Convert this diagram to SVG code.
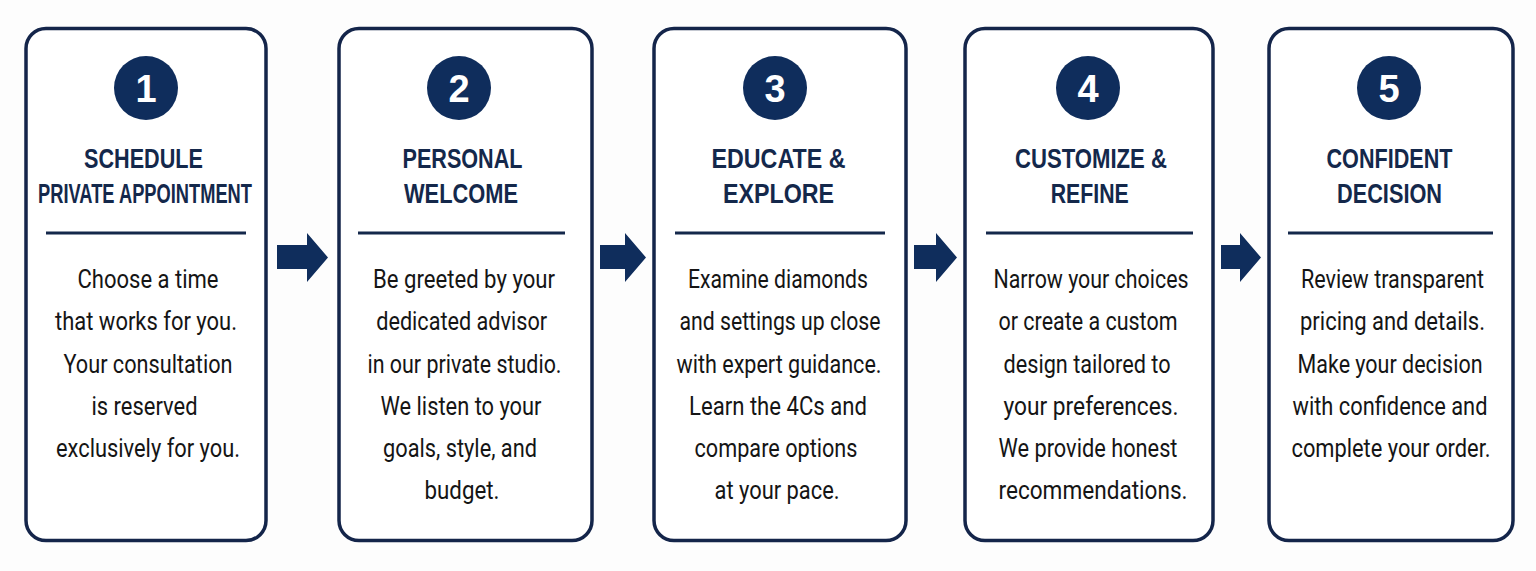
<svg xmlns="http://www.w3.org/2000/svg" width="1536" height="571" viewBox="0 0 1536 571">
<defs>
<style>
.card{fill:#ffffff;stroke:#14254a;stroke-width:3.5}
.badge{fill:#0f2d5c}
.num{fill:#ffffff;font-family:"Liberation Sans",Arial,sans-serif;font-weight:bold;font-size:38px;text-anchor:middle}
.title{fill:#14284b;font-family:"Liberation Sans Narrow","Liberation Sans",Arial,sans-serif;font-weight:bold;font-size:27px;text-anchor:middle}
.rule{stroke:#14284b;stroke-width:3}
.body{fill:#151515;font-family:Roboto,"Liberation Sans",Arial,sans-serif;font-size:25px;text-anchor:middle}
.arrow{fill:#0f2d5c}
</style>
</defs>
<rect width="1536" height="571" fill="#fdfdfd"/>

<g id="connectors">
<polygon class="arrow" points="277,245 307,245 307,233 328,257.5 307,282 307,269 277,269"/>
<polygon class="arrow" points="600,245 625,245 625,233 646,257.5 625,282 625,269 600,269"/>
<polygon class="arrow" points="914,245 936,245 936,233 957,257.5 936,282 936,269 914,269"/>
<polygon class="arrow" points="1221,245 1240,245 1240,233 1261,257.5 1240,282 1240,269 1221,269"/>
</g>

<g id="step1">
<rect class="card" x="26" y="28.5" width="240" height="512" rx="20"/>
<circle class="badge" cx="146" cy="88" r="32"/>
<text class="num" x="146" y="102">1</text>
<text class="title" x="143.5" y="168" textLength="119" lengthAdjust="spacingAndGlyphs">SCHEDULE</text>
<text class="title" x="145" y="203" textLength="214" lengthAdjust="spacingAndGlyphs">PRIVATE APPOINTMENT</text>
<line class="rule" x1="46" y1="233" x2="246" y2="233"/>
<text class="body" x="148" y="288" textLength="141" lengthAdjust="spacingAndGlyphs">Choose a time</text>
<text class="body" x="146" y="330" textLength="182" lengthAdjust="spacingAndGlyphs">that works for you.</text>
<text class="body" x="148" y="372.5" textLength="169" lengthAdjust="spacingAndGlyphs">Your consultation</text>
<text class="body" x="144.5" y="415" textLength="106" lengthAdjust="spacingAndGlyphs">is reserved</text>
<text class="body" x="148" y="457" textLength="184" lengthAdjust="spacingAndGlyphs">exclusively for you.</text>
</g>

<g id="step2">
<rect class="card" x="339" y="28.5" width="253" height="512" rx="20"/>
<circle class="badge" cx="459" cy="88" r="32"/>
<text class="num" x="459" y="102">2</text>
<text class="title" x="462.5" y="168" textLength="120" lengthAdjust="spacingAndGlyphs">PERSONAL</text>
<text class="title" x="461" y="203" textLength="114" lengthAdjust="spacingAndGlyphs">WELCOME</text>
<line class="rule" x1="358" y1="233" x2="565" y2="233"/>
<text class="body" x="464" y="288" textLength="182" lengthAdjust="spacingAndGlyphs">Be greeted by your</text>
<text class="body" x="461.7" y="330" textLength="171" lengthAdjust="spacingAndGlyphs">dedicated advisor</text>
<text class="body" x="464.5" y="372.5" textLength="194" lengthAdjust="spacingAndGlyphs">in our private studio.</text>
<text class="body" x="461" y="415" textLength="161" lengthAdjust="spacingAndGlyphs">We listen to your</text>
<text class="body" x="460" y="457" textLength="154" lengthAdjust="spacingAndGlyphs">goals, style, and</text>
<text class="body" x="462" y="499" textLength="75" lengthAdjust="spacingAndGlyphs">budget.</text>
</g>

<g id="step3">
<rect class="card" x="654" y="28.5" width="252" height="512" rx="20"/>
<circle class="badge" cx="775" cy="88" r="32"/>
<text class="num" x="775" y="102">3</text>
<text class="title" x="778.5" y="168" textLength="134" lengthAdjust="spacingAndGlyphs">EDUCATE &amp;</text>
<text class="title" x="778.5" y="203" textLength="111" lengthAdjust="spacingAndGlyphs">EXPLORE</text>
<line class="rule" x1="675" y1="233" x2="885" y2="233"/>
<text class="body" x="778" y="288" textLength="180" lengthAdjust="spacingAndGlyphs">Examine diamonds</text>
<text class="body" x="780" y="330" textLength="201" lengthAdjust="spacingAndGlyphs">and settings up close</text>
<text class="body" x="779" y="372.5" textLength="205" lengthAdjust="spacingAndGlyphs">with expert guidance.</text>
<text class="body" x="778" y="415" textLength="178" lengthAdjust="spacingAndGlyphs">Learn the 4Cs and</text>
<text class="body" x="776" y="457" textLength="163" lengthAdjust="spacingAndGlyphs">compare options</text>
<text class="body" x="777" y="499" textLength="125" lengthAdjust="spacingAndGlyphs">at your pace.</text>
</g>

<g id="step4">
<rect class="card" x="965" y="28.5" width="248" height="512" rx="20"/>
<circle class="badge" cx="1088" cy="88" r="32"/>
<text class="num" x="1088" y="102">4</text>
<text class="title" x="1091" y="168" textLength="152" lengthAdjust="spacingAndGlyphs">CUSTOMIZE &amp;</text>
<text class="title" x="1089.7" y="203" textLength="78" lengthAdjust="spacingAndGlyphs">REFINE</text>
<line class="rule" x1="986" y1="233" x2="1193" y2="233"/>
<text class="body" x="1091" y="288" textLength="195" lengthAdjust="spacingAndGlyphs">Narrow your choices</text>
<text class="body" x="1088" y="330" textLength="179" lengthAdjust="spacingAndGlyphs">or create a custom</text>
<text class="body" x="1087" y="372.5" textLength="167" lengthAdjust="spacingAndGlyphs">design tailored to</text>
<text class="body" x="1091" y="415" textLength="175" lengthAdjust="spacingAndGlyphs">your preferences.</text>
<text class="body" x="1088" y="457" textLength="179" lengthAdjust="spacingAndGlyphs">We provide honest</text>
<text class="body" x="1093" y="499" textLength="189" lengthAdjust="spacingAndGlyphs">recommendations.</text>
</g>

<g id="step5">
<rect class="card" x="1269" y="28.5" width="244" height="512" rx="20"/>
<circle class="badge" cx="1389" cy="88" r="32"/>
<text class="num" x="1389" y="102">5</text>
<text class="title" x="1389.5" y="168" textLength="126" lengthAdjust="spacingAndGlyphs">CONFIDENT</text>
<text class="title" x="1389.5" y="203" textLength="105" lengthAdjust="spacingAndGlyphs">DECISION</text>
<line class="rule" x1="1288" y1="233" x2="1493" y2="233"/>
<text class="body" x="1392.5" y="288" textLength="183" lengthAdjust="spacingAndGlyphs">Review transparent</text>
<text class="body" x="1392.5" y="330" textLength="185" lengthAdjust="spacingAndGlyphs">pricing and details.</text>
<text class="body" x="1390" y="372.5" textLength="185" lengthAdjust="spacingAndGlyphs">Make your decision</text>
<text class="body" x="1390" y="415" textLength="195" lengthAdjust="spacingAndGlyphs">with confidence and</text>
<text class="body" x="1391" y="457" textLength="199" lengthAdjust="spacingAndGlyphs">complete your order.</text>
</g>
</svg>
